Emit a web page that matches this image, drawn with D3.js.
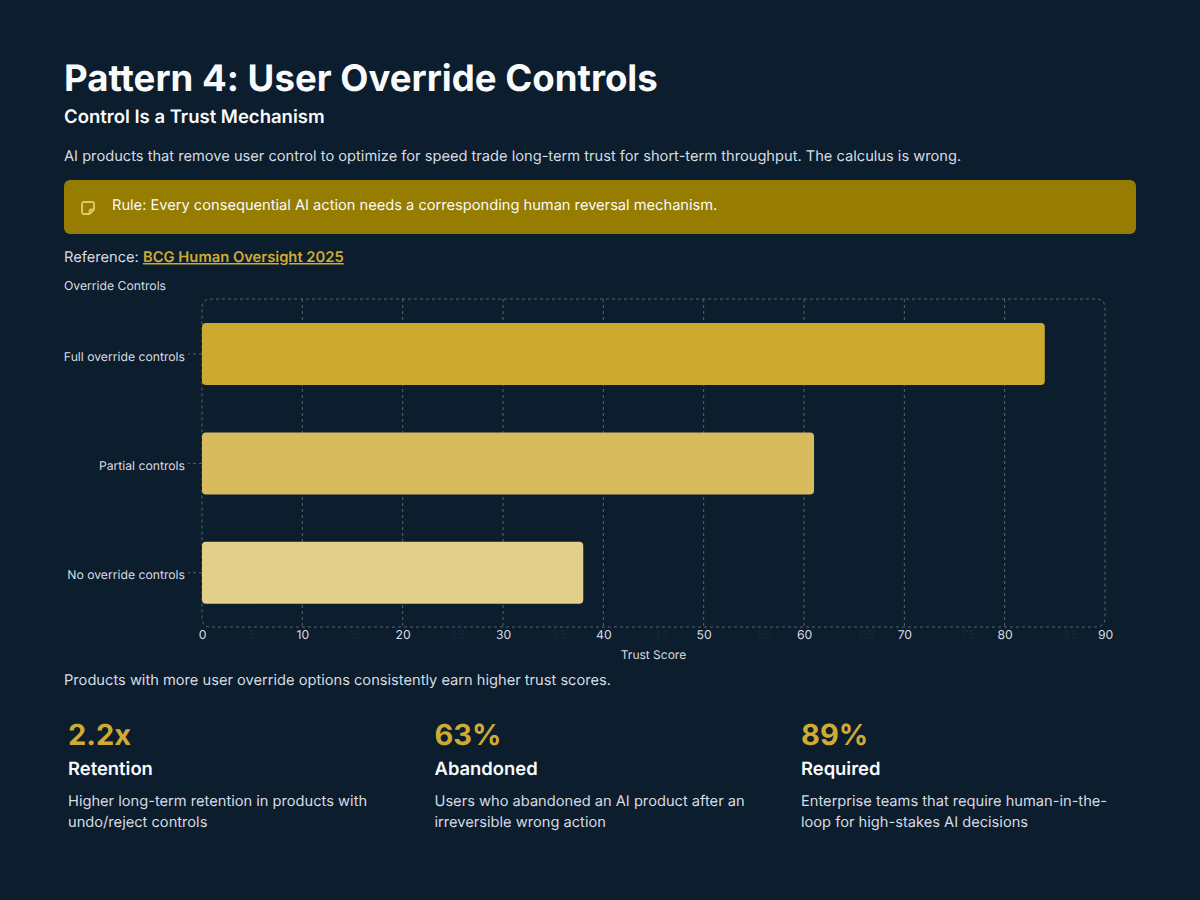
<!DOCTYPE html>
<html>
<head>
<meta charset="utf-8">
<script src="https://cdn.jsdelivr.net/npm/d3@7"></script>
<style>
  html, body { margin: 0; padding: 0; background: #0c1d2d; }
  svg { display: block; font-family: Inter, sans-serif; text-rendering: geometricPrecision; font-feature-settings: "calt" 0; }
</style>
</head>
<body>
<svg id="slide" width="1200" height="900"></svg>
<script>
// Chart data
const categories = ["Full override controls", "Partial controls", "No override controls"];
const trustScores = [84, 61, 38];
const barColors = ["#cca92f", "#d8bb5c", "#e2cf8a"];
const majorTicks = [0, 10, 20, 30, 40, 50, 60, 70, 80, 90];
const minorTicks = [5, 15, 25, 35, 45, 55, 65, 75, 85];

// Stat cards under the chart
const statValues = ["2.2x", "63%", "89%"];
const statTitles = ["Retention", "Abandoned", "Required"];
const statLines = [
  ["Higher long-term retention in products with", "undo/reject controls"],
  ["Users who abandoned an AI product after an", "irreversible wrong action"],
  ["Enterprise teams that require human-in-the-", "loop for high-stakes AI decisions"]
];

const gold = "#cfab33";
const textLight = "#d6dce2";
const white = "#f8fafc";
const bodySize = 14.65;
const axisSize = 12.2;

const svg = d3.select("#slide");

function label(x, y, str, size, weight, fill, anchor) {
  return svg.append("text")
    .attr("x", x).attr("y", y)
    .attr("font-size", size).attr("font-weight", weight)
    .attr("fill", fill).attr("text-anchor", anchor || "start")
    .text(str);
}

// Heading block
label(64, 91, "Pattern 4: User Override Controls", 36.6, 700, white);
label(64, 123, "Control Is a Trust Mechanism", 18.5, 600, white);
label(64, 161, "AI products that remove user control to optimize for speed trade long-term trust for short-term throughput. The calculus is wrong.", bodySize, 400, textLight);

// Callout banner with its note icon
svg.append("rect").attr("x", 64).attr("y", 180).attr("width", 1072).attr("height", 54).attr("rx", 6).attr("fill", "#967c00");
const icon = svg.append("g").attr("transform", "translate(81.5,201.5)")
  .attr("fill", "none").attr("stroke", "#e3c765").attr("stroke-width", 1.9).attr("stroke-linejoin", "round");
icon.append("path").attr("d", "M2.5 0.5H11a1.5 1.5 0 0 1 1.5 1.5V8L8 12.5H2.5A2 2 0 0 1 0.5 10.5V2.5A2 2 0 0 1 2.5 0.5Z");
icon.append("path").attr("d", "M12.5 8H9.5A1.5 1.5 0 0 0 8 9.5V12.5");
label(112, 210, "Rule: Every consequential AI action needs a corresponding human reversal mechanism.", bodySize, 400, white);

// Source reference line
label(64, 262, "Reference: ", bodySize, 400, textLight);
label(143, 262, "BCG Human Oversight 2025", 14.75, 600, gold).attr("text-decoration", "underline");

// Chart title
label(64, 290, "Override Controls", axisSize, 400, textLight);

// Scales
const margin = { left: 202, right: 1105, top: 299, bottom: 627 };
const x = d3.scaleLinear().domain([0, 90]).range([margin.left, margin.right]);
const y = d3.scaleBand().domain(categories).range([margin.top + 0.4, margin.bottom + 0.4]).paddingInner(0.4325).paddingOuter(0.2163);
const minorX = d3.scaleLinear().domain([5, 85]).range([252.5, 1071]);

const gridStroke = "#566472";
const dash = "3 3";

// Vertical grid lines
svg.append("g").selectAll("line")
  .data(majorTicks.slice(1, -1))
  .join("line")
  .attr("x1", d => x(d)).attr("x2", d => x(d))
  .attr("y1", margin.top).attr("y2", margin.bottom)
  .attr("stroke", gridStroke).attr("stroke-dasharray", dash);

// Plot frame
svg.append("rect")
  .attr("x", margin.left).attr("y", margin.top)
  .attr("width", margin.right - margin.left).attr("height", margin.bottom - margin.top)
  .attr("rx", 8).attr("fill", "none")
  .attr("stroke", gridStroke).attr("stroke-dasharray", dash);

// Bars
svg.append("g").selectAll("rect")
  .data(categories)
  .join("rect")
  .attr("x", x(0))
  .attr("y", d => y(d))
  .attr("width", (d, i) => x(trustScores[i]) - x(0))
  .attr("height", y.bandwidth())
  .attr("rx", 4)
  .attr("fill", (d, i) => barColors[i]);

// Category axis
const yAxis = svg.append("g").attr("transform", `translate(${margin.left},0)`)
  .call(d3.axisLeft(y).tickSize(14).tickPadding(3));
yAxis.select(".domain").remove();
yAxis.selectAll("line").attr("stroke", gridStroke).attr("stroke-dasharray", dash);
yAxis.selectAll("text").attr("font-family", "Inter, sans-serif").attr("font-size", axisSize).attr("fill", textLight).attr("dy", "0.55em");

// Value axis, major labels
const xAxis = svg.append("g").attr("transform", `translate(0,${margin.bottom})`)
  .call(d3.axisBottom(x).tickValues(majorTicks).tickSize(0).tickPadding(3));
xAxis.select(".domain").remove();
xAxis.selectAll("text").attr("font-family", "Inter, sans-serif").attr("font-size", axisSize).attr("fill", textLight);

// Barely visible in-between labels
svg.append("g").selectAll("text")
  .data(minorTicks)
  .join("text")
  .attr("x", d => minorX(d)).attr("y", 639)
  .attr("text-anchor", "middle").attr("font-size", axisSize).attr("fill", "#152636")
  .text(d => d);

label(653.5, 659, "Trust Score", 12, 400, textLight, "middle");

// Chart caption
label(64, 685, "Products with more user override options consistently earn higher trust scores.", bodySize, 400, textLight);

// Stat cards
const cardX = d3.scalePoint().domain(d3.range(3)).range([68, 801]);
statValues.forEach((v, i) => {
  const cx = cardX(i);
  label(cx, 745, v, 29, 700, gold);
  label(cx, 775, statTitles[i], 18.4, 600, white);
  statLines[i].forEach((line, j) => label(cx, 806 + j * 21, line, bodySize, 400, textLight));
});
</script>
</body>
</html>
